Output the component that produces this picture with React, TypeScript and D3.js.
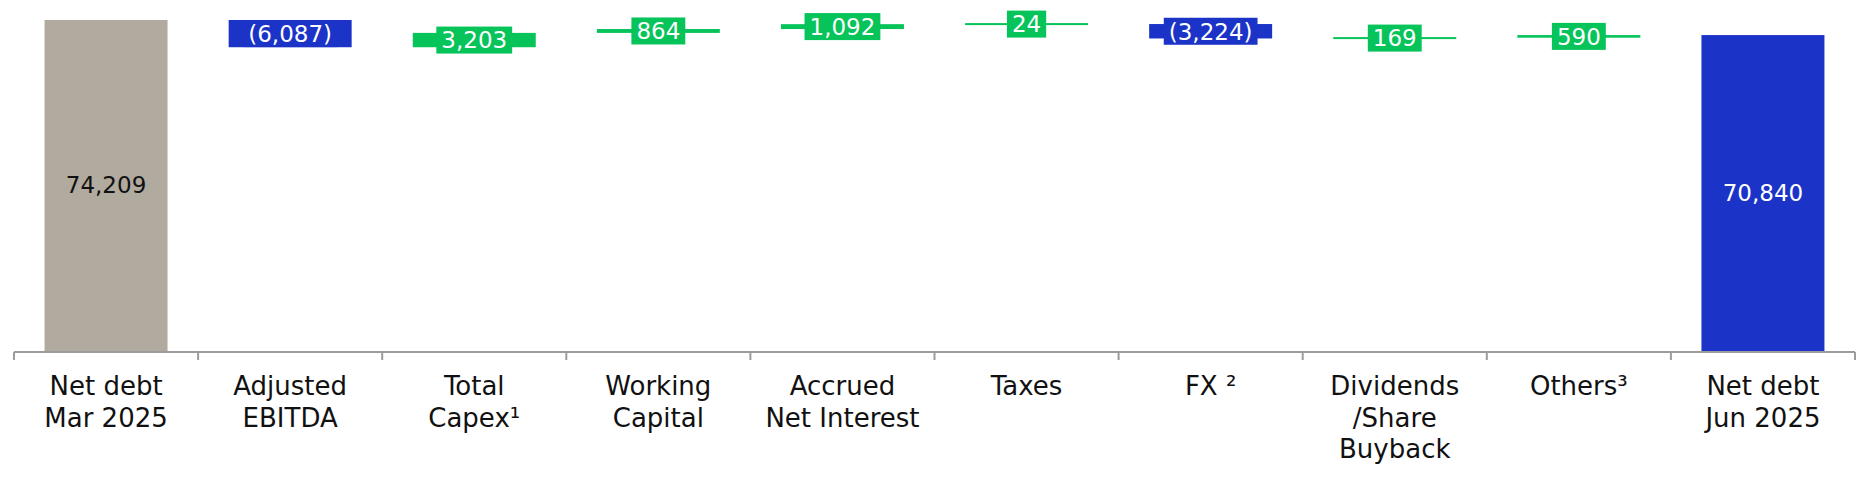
import React from 'react';
import * as d3 from 'd3';

const categories: string[] = [
  'Net debt\nMar 2025',
  'Adjusted\nEBITDA',
  'Total\nCapex¹',
  'Working\nCapital',
  'Accrued\nNet Interest',
  'Taxes',
  'FX ²',
  'Dividends\n/Share\nBuyback',
  'Others³',
  'Net debt\nJun 2025',
];
const values: number[] = [74209, -6087, 3203, 864, 1092, 24, -3224, 169, 590, 70840];
const isTotal: boolean[] = [true, false, false, false, false, false, false, false, false, true];
const valueLabels: string[] = ['74,209', '(6,087)', '3,203', '864', '1,092', '24', '(3,224)', '169', '590', '70,840'];

const W = 1870;
const H = 484;
const FONT = "'DejaVu Sans', sans-serif";
const GRAY = '#b1aa9e';
const BLUE = '#1b33c7';
const GREEN = '#06c35a';
const AXIS = '#9c9c9c';

export default function App() {
  let running = 0;
  const rows = values.map((v, i) => {
    let start: number, end: number;
    if (isTotal[i]) {
      start = 0;
      end = v;
      running = v;
    } else {
      start = running;
      end = running + v;
      running = end;
    }
    return { cat: categories[i], v, start, end, total: isTotal[i], label: valueLabels[i] };
  });

  const maxV = d3.max(rows, (r) => Math.max(r.start, r.end)) as number;
  const y = d3.scaleLinear().domain([0, maxV]).range([352, 20]);
  const x0r = 14;
  const x1r = 1855;
  const x = d3
    .scaleBand<string>()
    .domain(categories)
    .range([x0r, x1r])
    .paddingInner(0.332)
    .paddingOuter(0.166);
  const step = x.step();
  const bw = x.bandwidth();
  const axisY = y(0);

  const labelFont = 23;
  const charW = (s: string) => {
    let w = 0;
    for (const c of s) {
      if (/[0-9]/.test(c)) w += 0.636;
      else if (c === ',') w += 0.318;
      else if (c === '(' || c === ')') w += 0.39;
      else w += 0.6;
    }
    return w * labelFont;
  };

  return (
    <svg
      width={W}
      height={H}
      style={{ position: 'absolute', left: 0, top: 0, display: 'block', background: '#fff' }}
      fontFamily={FONT}
    >
      {rows.map((r, i) => {
        const xb = x(r.cat) as number;
        const cx = xb + bw / 2;
        const yTop = Math.min(y(r.start), y(r.end));
        const yBot = Math.max(y(r.start), y(r.end));
        let h = yBot - yTop;
        const color = r.total ? (i === 0 ? GRAY : BLUE) : r.v < 0 ? BLUE : GREEN;
        let top = yTop;
        if (!r.total && h < 2) {
          const mid = (yTop + yBot) / 2;
          top = mid - 1;
          h = 2;
        }
        const cy = top + h / 2;
        const tw = charW(r.label);
        const boxW = tw + 10;
        const boxH = 27;
        return (
          <g key={i}>
            <rect x={xb} y={top} width={bw} height={h} fill={color} />
            {!r.total && (
              <rect x={cx - boxW / 2} y={cy - boxH / 2} width={boxW} height={boxH} fill={color} />
            )}
            <text
              x={cx}
              y={r.total ? cy - 1 : cy}
              dy="0.36em"
              textAnchor="middle"
              fontSize={labelFont}
              fill={i === 0 ? '#111' : '#fff'}
            >
              {r.label}
            </text>
          </g>
        );
      })}

      <line x1={x0r} x2={x1r} y1={axisY} y2={axisY} stroke={AXIS} strokeWidth={2} />
      {d3.range(categories.length + 1).map((k) => {
        const tx = x0r + k * step;
        return <line key={k} x1={tx} x2={tx} y1={axisY} y2={axisY + 8} stroke={AXIS} strokeWidth={2} />;
      })}

      {rows.map((r, i) => {
        const cx = (x(r.cat) as number) + bw / 2;
        const lines = r.cat.split('\n');
        return (
          <text key={'l' + i} x={cx} y={395} textAnchor="middle" fontSize={26} fill="#111">
            {lines.map((ln, j) => (
              <tspan key={j} x={cx} y={395 + j * 31.5}>
                {ln}
              </tspan>
            ))}
          </text>
        );
      })}
    </svg>
  );
}
